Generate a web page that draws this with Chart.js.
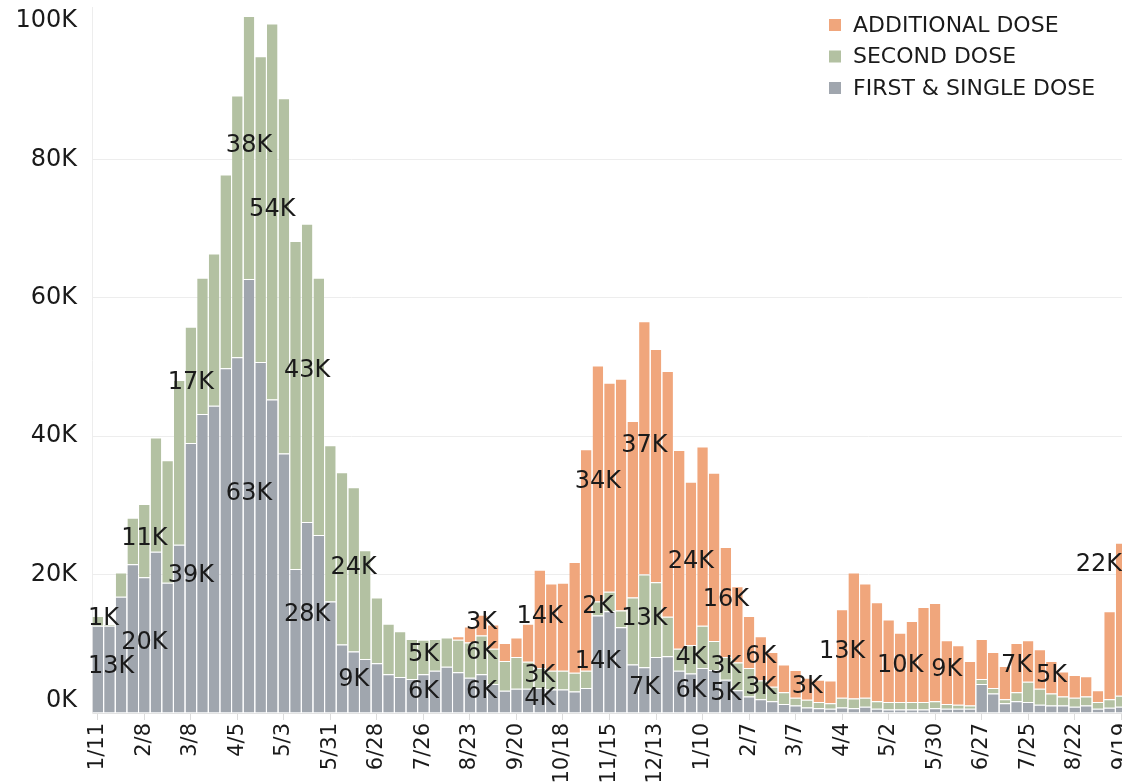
<!DOCTYPE html>
<html>
<head>
<meta charset="utf-8">
<title>Dosis semanales</title>
<script src="https://cdn.jsdelivr.net/npm/chart.js@4.4.1/dist/chart.umd.min.js"></script>
<style>
  html, body { margin: 0; padding: 0; background: #fff; overflow: hidden; }
  #wrap { position: relative; width: 1122px; height: 782px; overflow: hidden; }
  canvas { display: block; }
</style>
</head>
<body>
<div id="wrap"><canvas id="grafico" width="1127" height="783"></canvas></div>
<script>
// Semanas (lunes), 1/11/2021 a 9/19/2022
const semanas = [
  '1/11','1/18','1/25','2/1','2/8','2/15','2/22','3/1','3/8','3/15','3/22','3/29',
  '4/5','4/12','4/19','4/26','5/3','5/10','5/17','5/24','5/31','6/7','6/14','6/21',
  '6/28','7/5','7/12','7/19','7/26','8/2','8/9','8/16','8/23','8/30','9/6','9/13',
  '9/20','9/27','10/4','10/11','10/18','10/25','11/1','11/8','11/15','11/22','11/29','12/6',
  '12/13','12/20','12/27','1/3','1/10','1/17','1/24','1/31','2/7','2/14','2/21','2/28',
  '3/7','3/14','3/21','3/28','4/4','4/11','4/18','4/25','5/2','5/9','5/16','5/23',
  '5/30','6/6','6/13','6/20','6/27','7/4','7/11','7/18','7/25','8/1','8/8','8/15',
  '8/22','8/29','9/5','9/12','9/19'
];

// Dosis en miles
const primeraDosis = [
  12.6,12.6,16.8,21.5,19.6,23.3,18.8,24.3,39.0,43.2,
  44.4,49.8,51.4,62.7,50.7,45.3,37.5,20.8,27.6,25.7,
  16.1,9.9,8.9,7.8,7.2,5.6,5.2,4.9,5.6,6.1,
  6.7,5.9,5.1,5.6,4.2,3.2,3.5,3.5,3.6,3.4,
  3.4,3.1,3.6,14.1,14.7,12.4,7.0,6.6,8.1,8.2,
  6.1,5.7,6.5,6.2,4.8,3.3,2.4,2.0,1.7,1.3,
  1.1,0.8,0.7,0.6,0.8,0.7,0.9,0.6,0.5,0.5,
  0.5,0.5,0.7,0.6,0.6,0.6,4.2,2.8,1.4,1.7,
  1.6,1.2,1.1,1.1,0.9,1.1,0.6,0.75,0.9
];
const segundaDosis = [
  1.4,0.2,3.5,6.7,10.6,16.5,17.7,23.8,16.8,19.7,
  22.0,28.0,37.8,38.0,44.2,54.3,51.3,47.4,43.1,37.2,
  22.6,24.9,23.7,15.7,9.5,7.3,6.6,5.8,5.0,4.6,
  4.2,4.7,5.1,5.6,5.1,4.3,4.6,3.9,2.9,2.7,
  2.7,2.7,2.5,2.0,2.8,2.4,9.7,13.4,10.8,5.7,
  3.2,4.1,6.1,4.2,3.3,4.0,4.1,2.7,2.1,1.7,
  1.1,1.1,0.9,0.8,1.4,1.4,1.3,1.1,1.1,1.1,
  1.1,1.1,1.0,0.7,0.6,0.5,0.7,0.8,0.6,1.3,
  2.9,2.3,1.7,1.3,1.3,1.3,1.0,1.25,1.6
];
const dosisAdicional = [
  0,0,0,0,0,0,0,0,0,0,
  0,0,0,0,0,0,0,0,0,0,
  0,0,0,0,0,0,0,0,0,0,
  0,0.5,2.3,3.0,3.5,2.6,2.8,5.5,14.2,12.6,
  12.7,16.0,32.0,34.1,30.2,33.5,25.5,36.6,33.7,35.5,
  28.7,23.6,25.9,24.3,15.9,11.0,7.5,6.4,5.0,4.0,
  4.0,3.2,3.2,3.3,12.8,18.2,16.5,14.3,11.9,10.0,
  11.7,13.7,14.2,9.2,8.6,6.4,5.8,5.2,4.8,7.1,
  6.0,5.7,4.7,3.6,3.3,2.9,1.7,12.7,22.1
];
const valoresEje = [0, 20, 40, 60, 80, 100];

// Barras con etiqueta: [indice de semana, serie] (0 = primera, 1 = segunda, 2 = adicional)
const etiquetas = [
  [0,1],[0,0],[4,0],[4,1],[8,0],[8,1],[13,0],[13,1],[15,1],[18,0],[18,1],
  [22,0],[22,1],[28,0],[28,1],[33,0],[33,1],[33,2],[38,0],[38,1],[38,2],
  [43,0],[43,1],[43,2],[47,0],[47,1],[47,2],[51,0],[51,1],[51,2],
  [54,0],[54,1],[54,2],[57,1],[57,2],[61,2],[64,2],[69,2],[73,2],[79,2],[82,2],[88,2]
];
const desplazamiento = { 88: -52 };

const fuente = '"DejaVu Sans", sans-serif';
const colorTexto = '#1a1a1a';

const etiquetasPlugin = {
  id: 'etiquetas',
  afterDatasetsDraw(chart) {
    const ctx = chart.ctx;
    const area = chart.chartArea;
    ctx.save();
    ctx.font = '24px ' + fuente;
    ctx.fillStyle = colorTexto;
    ctx.textAlign = 'center';
    ctx.textBaseline = 'middle';
    etiquetas.forEach(([i, d]) => {
      const barra = chart.getDatasetMeta(d).data[i];
      const txt = Math.round(chart.data.datasets[d].data[i]) + 'K';
      const w = ctx.measureText(txt).width;
      let x = Math.max(barra.x, area.left - 4 + w / 2);
      x = Math.min(x, 1122 - w / 2);
      const y = (barra.y + barra.base) / 2 - 2 + (desplazamiento[i] || 0);
      ctx.fillText(txt, x, y);
    });
    ctx.restore();
  },
  afterDraw(chart) {
    const ctx = chart.ctx;
    const escala = chart.scales.y;
    ctx.save();
    // etiquetas del eje y
    ctx.font = '24px ' + fuente;
    ctx.fillStyle = colorTexto;
    ctx.textAlign = 'right';
    ctx.textBaseline = 'middle';
    valoresEje.forEach(v => {
      let y = escala.getPixelForValue(v);
      if (v === 0) y -= 12;
      ctx.fillText(v + 'K', chart.chartArea.left - 15, y);
    });
    // leyenda
    ctx.font = '22px ' + fuente;
    ctx.textAlign = 'left';
    chart.data.datasets.slice().reverse().forEach((ds, k) => {
      const y = 25 + k * 31.5;
      ctx.fillStyle = ds.backgroundColor;
      ctx.fillRect(829, y - 6, 12, 12);
      ctx.fillStyle = colorTexto;
      ctx.fillText(ds.label, 853, y + 1);
    });
    ctx.restore();
  }
};

Chart.defaults.font.family = fuente;

new Chart(document.getElementById('grafico').getContext('2d'), {
  type: 'bar',
  data: {
    labels: semanas,
    datasets: [
      { label: 'FIRST & SINGLE DOSE', data: primeraDosis, backgroundColor: '#A0A6AE' },
      { label: 'SECOND DOSE', data: segundaDosis, backgroundColor: '#B3C1A2' },
      { label: 'ADDITIONAL DOSE', data: dosisAdicional, backgroundColor: '#F0A67C' }
    ]
  },
  options: {
    responsive: false,
    animation: false,
    devicePixelRatio: 1,
    layout: { padding: { top: 7, left: 0, right: 0, bottom: 0 } },
    datasets: {
      bar: {
        barPercentage: 0.91,
        categoryPercentage: 1,
        borderColor: '#ffffff',
        borderWidth: { top: 1, left: 0, right: 0, bottom: 0 }
      }
    },
    plugins: {
      legend: { display: false },
      tooltip: { enabled: false }
    },
    scales: {
      x: {
        stacked: true,
        afterBuildTicks: a => { a.ticks = a.ticks.filter((t, i) => i % 4 === 0); },
        afterFit: s => { s.height = 70; s.paddingLeft = 0; s.paddingRight = 0; },
        ticks: {
          autoSkip: false,
          minRotation: 90,
          maxRotation: 90,
          padding: 3,
          color: colorTexto,
          font: { size: 21 }
        },
        grid: { display: true, drawOnChartArea: false, offset: false, tickLength: 7, color: '#dcdcdc' },
        border: { color: '#e2e2e2' }
      },
      y: {
        stacked: true,
        min: 0,
        max: 102,
        afterBuildTicks: a => { a.ticks = a.ticks.filter(t => valoresEje.includes(t.value)); },
        afterFit: s => { s.width = 92; s.paddingTop = 0; s.paddingBottom = 0; },
        ticks: { display: false, stepSize: 20 },
        grid: { color: '#ededed', drawTicks: false },
        border: { display: true, color: '#ededed' }
      }
    }
  },
  plugins: [etiquetasPlugin]
});
</script>
</body>
</html>
